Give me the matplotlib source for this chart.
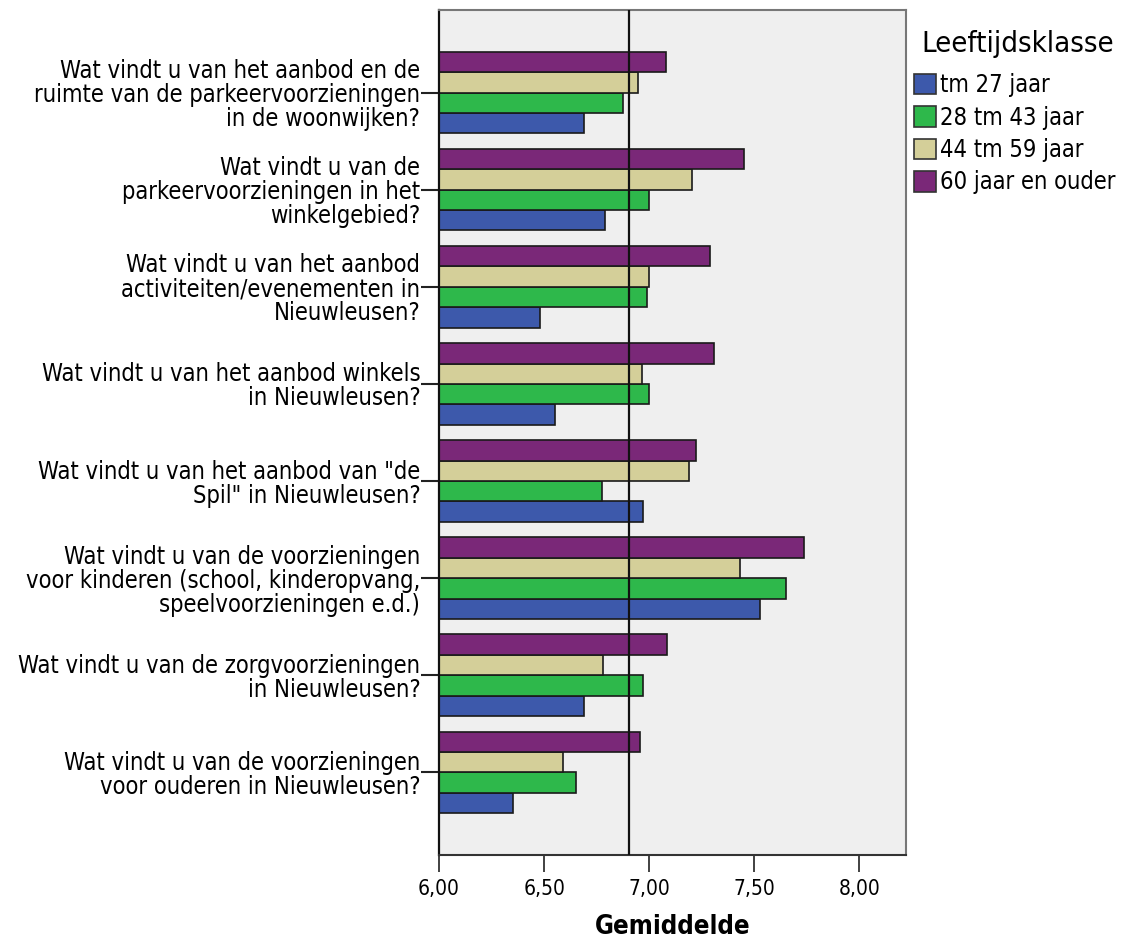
import numpy as np
import matplotlib
matplotlib.use("Agg")
import matplotlib.pyplot as plt

# === DATA ===
categories = [
    "Wat vindt u van het aanbod en de\nruimte van de parkeervoorzieningen\nin de woonwijken?",
    "Wat vindt u van de\nparkeervoorzieningen in het\nwinkelgebied?",
    "Wat vindt u van het aanbod\nactiviteiten/evenementen in\nNieuwleusen?",
    "Wat vindt u van het aanbod winkels\nin Nieuwleusen?",
    "Wat vindt u van het aanbod van \"de\nSpil\" in Nieuwleusen?",
    "Wat vindt u van de voorzieningen\nvoor kinderen (school, kinderopvang,\nspeelvoorzieningen e.d.)",
    "Wat vindt u van de zorgvoorzieningen\nin Nieuwleusen?",
    "Wat vindt u van de voorzieningen\nvoor ouderen in Nieuwleusen?",
]
age_groups = ["tm 27 jaar", "28 tm 43 jaar", "44 tm 59 jaar", "60 jaar en ouder"]
tm27 = [6.69, 6.79, 6.48, 6.55, 6.97, 7.53, 6.69, 6.35]
tm43 = [6.875, 7.00, 6.99, 7.00, 6.775, 7.65, 6.97, 6.65]
tm59 = [6.945, 7.205, 7.00, 6.965, 7.19, 7.435, 6.78, 6.59]
ouder60 = [7.08, 7.45, 7.29, 7.31, 7.225, 7.735, 7.085, 6.955]
reference_mean = 6.903
xticks = [6.0, 6.5, 7.0, 7.5, 8.0]
xtick_labels = ["6,00", "6,50", "7,00", "7,50", "8,00"]

colors = ["#3D59AB", "#2EB84B", "#D4CF99", "#7A2878"]

plt.rcParams["font.family"] = "DejaVu Sans"
plt.rcParams["font.stretch"] = "condensed"

fig = plt.figure(figsize=(11.31, 9.42), dpi=100)
ax = fig.add_axes([0.3882, 0.0924, 0.4127, 0.8970])
ax.set_facecolor("#EFEFEF")

y = np.arange(len(categories))
h = 0.21
series = [tm27, tm43, tm59, ouder60]
offsets = [1.5 * h, 0.5 * h, -0.5 * h, -1.5 * h]
handles = []
for vals, off, col, lab in zip(series, offsets, colors, age_groups):
    b = ax.barh(y + off, np.array(vals) - 6.0, left=6.0, height=h, color=col,
                edgecolor="#1a1a1a", linewidth=1.2, label=lab, zorder=2)
    handles.append(b)

ax.axvline(reference_mean, color="#111111", linewidth=1.6, zorder=3)

ax.set_xlim(6.0, 8.222)
ax.set_ylim(7.85, -0.85)
ax.set_xticks(xticks)
ax.set_xticklabels(xtick_labels, fontsize=15)
ax.set_yticks(y)
ax.set_yticklabels(categories, fontsize=17, linespacing=1.0, ha="right")
ax.tick_params(axis="y", length=13, width=1.5, pad=0.5, color="#222222")
ax.tick_params(axis="x", length=12, width=1.3, pad=5, color="#333333")

for side in ["top", "right", "bottom"]:
    ax.spines[side].set_color("#777777")
    ax.spines[side].set_linewidth(1.5)
ax.spines["left"].set_color("#111111")
ax.spines["left"].set_linewidth(1.6)
ax.spines["bottom"].set_color("#333333")

ax.set_xlabel("Gemiddelde", fontsize=18.5, fontweight="bold", labelpad=11)

# legend title as separate text (larger gap to entries than the legend gives)
fig.text(921 / 1131, 1 - 44 / 942, "Leeftijdsklasse", fontsize=21,
         ha="left", va="center")
leg = ax.legend(handles=handles, labels=age_groups,
                loc="upper left", bbox_to_anchor=(0.808, 1 - 73 / 942),
                bbox_transform=fig.transFigure, frameon=False, fontsize=17,
                handlelength=0.95, handleheight=0.95,
                handletextpad=0.15, labelspacing=0.36, borderpad=0,
                borderaxespad=0)
for p in leg.get_patches():
    p.set_edgecolor("#333333")

fig.savefig("out.png", dpi=100)
